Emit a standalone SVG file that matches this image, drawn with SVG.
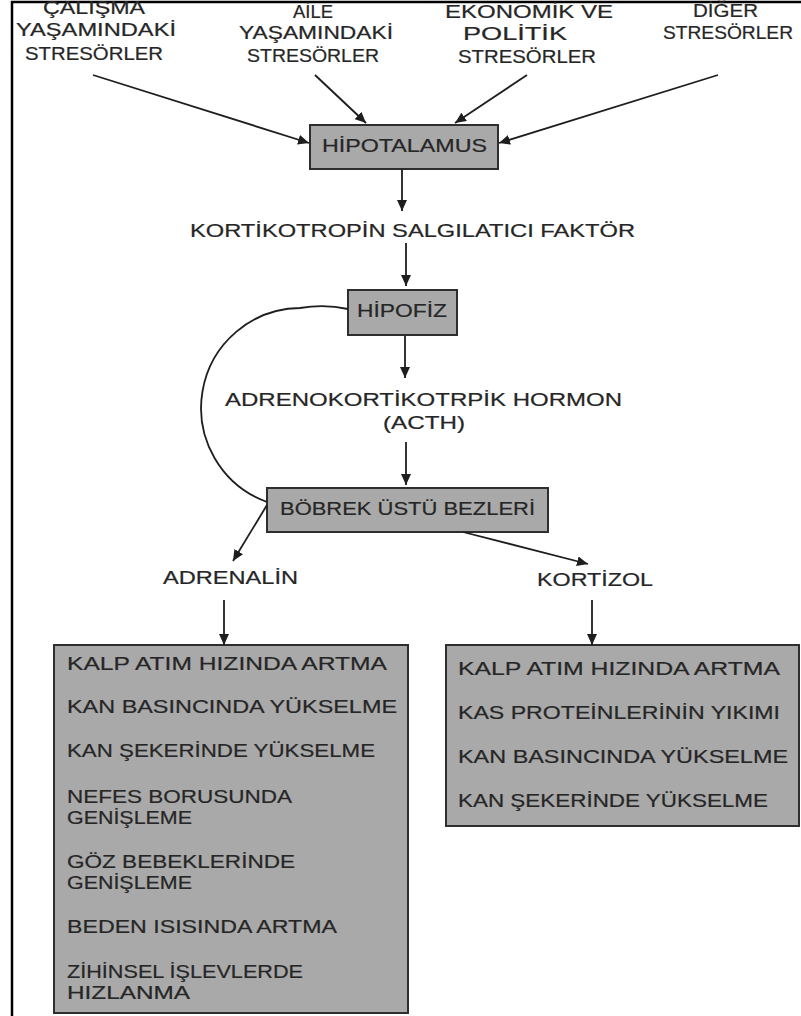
<svg xmlns="http://www.w3.org/2000/svg" width="801" height="1016" viewBox="0 0 801 1016">
<style>
text{font-family:"Liberation Sans","DejaVu Sans",sans-serif;font-size:18px;fill:#262626;stroke:#262626;stroke-width:0.2}
.box{fill:#a9a9a9;stroke:#2e2e2e;stroke-width:2}
.c{fill:none;stroke:#1e1e1e;stroke-width:1.8}
.a{marker-end:url(#ah)}
</style>
<defs>
<marker id="ah" markerUnits="userSpaceOnUse" markerWidth="12" markerHeight="10" refX="11" refY="5" orient="auto">
<path d="M0,0 L11,5 L0,10 z" fill="#1e1e1e"/>
</marker>
</defs>
<rect width="801" height="1016" fill="#fff"/>
<path d="M12,1016 V2 H801" fill="none" stroke="#000" stroke-width="2.5"/>

<g id="stres1">
<text x="43" y="14" textLength="102" lengthAdjust="spacingAndGlyphs">ÇALIŞMA</text>
<text x="16" y="36" textLength="160" lengthAdjust="spacingAndGlyphs">YAŞAMINDAKİ</text>
<text x="25" y="60" textLength="138" lengthAdjust="spacingAndGlyphs">STRESÖRLER</text>
</g>
<g id="stres2">
<text x="293" y="18" textLength="40" lengthAdjust="spacingAndGlyphs">AİLE</text>
<text x="239" y="39" textLength="154" lengthAdjust="spacingAndGlyphs">YAŞAMINDAKİ</text>
<text x="247" y="62" textLength="132" lengthAdjust="spacingAndGlyphs">STRESÖRLER</text>
</g>
<g id="stres3">
<text x="445" y="18" textLength="168" lengthAdjust="spacingAndGlyphs">EKONOMİK VE</text>
<text x="463" y="40" textLength="104" lengthAdjust="spacingAndGlyphs">POLİTİK</text>
<text x="458" y="63" textLength="138" lengthAdjust="spacingAndGlyphs">STRESÖRLER</text>
</g>
<g id="stres4">
<text x="693" y="17" textLength="65" lengthAdjust="spacingAndGlyphs">DİĞER</text>
<text x="663" y="39" textLength="130" lengthAdjust="spacingAndGlyphs">STRESÖRLER</text>
</g>

<g id="hipotalamus">
<rect class="box" x="310" y="125" width="188" height="44"/>
<text x="322" y="152" textLength="165" lengthAdjust="spacingAndGlyphs">HİPOTALAMUS</text>
</g>
<g id="crf">
<text x="190" y="237" textLength="445" lengthAdjust="spacingAndGlyphs">KORTİKOTROPİN SALGILATICI FAKTÖR</text>
</g>
<g id="hipofiz">
<rect class="box" x="348" y="290" width="109" height="45"/>
<text x="357" y="317" textLength="90" lengthAdjust="spacingAndGlyphs">HİPOFİZ</text>
</g>
<g id="acth">
<text x="225" y="406" textLength="397" lengthAdjust="spacingAndGlyphs">ADRENOKORTİKOTRPİK HORMON</text>
<text x="383" y="429" textLength="82" lengthAdjust="spacingAndGlyphs">(ACTH)</text>
</g>
<g id="bobrek">
<rect class="box" x="267" y="488" width="281" height="44"/>
<text x="280" y="515" textLength="255" lengthAdjust="spacingAndGlyphs">BÖBREK ÜSTÜ BEZLERİ</text>
</g>
<g id="adrenalin">
<text x="163" y="584" textLength="135" lengthAdjust="spacingAndGlyphs">ADRENALİN</text>
</g>
<g id="kortizol">
<text x="537" y="586" textLength="116" lengthAdjust="spacingAndGlyphs">KORTİZOL</text>
</g>
<g id="adrenalin-etkileri">
<rect class="box" x="54" y="645" width="354" height="368"/>
<text x="67" y="670" textLength="320" lengthAdjust="spacingAndGlyphs">KALP ATIM HIZINDA ARTMA</text>
<text x="67" y="713" textLength="330" lengthAdjust="spacingAndGlyphs">KAN BASINCINDA YÜKSELME</text>
<text x="67" y="757" textLength="308" lengthAdjust="spacingAndGlyphs">KAN ŞEKERİNDE YÜKSELME</text>
<text x="67" y="803" textLength="225" lengthAdjust="spacingAndGlyphs">NEFES BORUSUNDA</text>
<text x="67" y="824" textLength="125" lengthAdjust="spacingAndGlyphs">GENİŞLEME</text>
<text x="67" y="868" textLength="228" lengthAdjust="spacingAndGlyphs">GÖZ BEBEKLERİNDE</text>
<text x="67" y="889" textLength="125" lengthAdjust="spacingAndGlyphs">GENİŞLEME</text>
<text x="67" y="933" textLength="270" lengthAdjust="spacingAndGlyphs">BEDEN ISISINDA ARTMA</text>
<text x="67" y="978" textLength="236" lengthAdjust="spacingAndGlyphs">ZİHİNSEL İŞLEVLERDE</text>
<text x="67" y="999" textLength="123" lengthAdjust="spacingAndGlyphs">HIZLANMA</text>
</g>
<g id="kortizol-etkileri">
<rect class="box" x="446" y="645" width="353" height="181"/>
<text x="458" y="675" textLength="322" lengthAdjust="spacingAndGlyphs">KALP ATIM HIZINDA ARTMA</text>
<text x="458" y="719" textLength="322" lengthAdjust="spacingAndGlyphs">KAS PROTEİNLERİNİN YIKIMI</text>
<text x="458" y="763" textLength="330" lengthAdjust="spacingAndGlyphs">KAN BASINCINDA YÜKSELME</text>
<text x="458" y="807" textLength="310" lengthAdjust="spacingAndGlyphs">KAN ŞEKERİNDE YÜKSELME</text>
</g>

<g id="connectors">
<line class="c a" x1="93" y1="75" x2="309" y2="143"/>
<line class="c a" x1="315" y1="75" x2="366" y2="123"/>
<line class="c a" x1="527" y1="75" x2="455" y2="123"/>
<line class="c a" x1="718" y1="75" x2="499" y2="143"/>
<line class="c a" x1="402" y1="169" x2="402" y2="211"/>
<line class="c a" x1="406" y1="243" x2="406" y2="286"/>
<line class="c a" x1="405" y1="336" x2="405" y2="378"/>
<line class="c a" x1="406" y1="442" x2="406" y2="485"/>
<path class="c" d="M348,309 Q325,304 300,308 A100,100 0 0 0 267,502"/>
<line class="c a" x1="267" y1="505" x2="233" y2="561"/>
<line class="c a" x1="463" y1="532" x2="588" y2="564"/>
<line class="c a" x1="224" y1="600" x2="224" y2="645"/>
<line class="c a" x1="592" y1="600" x2="592" y2="645"/>
</g>
</svg>
